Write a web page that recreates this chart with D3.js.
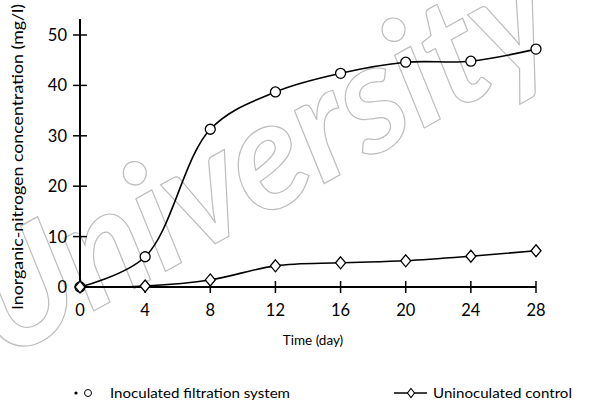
<!DOCTYPE html>
<html>
<head>
<meta charset="utf-8">
<script src="https://cdn.jsdelivr.net/npm/d3@7"></script>
<style>
  body { margin: 0; background: #fff; }
  text { font-family: Lato, "Open Sans", sans-serif; }
</style>
</head>
<body>
<script>
// data
var days = [0, 4, 8, 12, 16, 20, 24, 28];
var inoculated = [0, 6, 31.3, 38.7, 42.4, 44.6, 44.8, 47.2];
var uninoculated = [0, 0.2, 1.4, 4.2, 4.8, 5.2, 6.1, 7.2];
var yTicks = [0, 10, 20, 30, 40, 50];

var width = 590, height = 405;

var svg = d3.select("body").append("svg")
  .attr("width", width)
  .attr("height", height);

// watermark
svg.append("text")
  .attr("transform", "translate(2,362) rotate(-29)")
  .attr("font-size", 152)
  .attr("font-weight", "bold")
  .attr("font-style", "italic")
  .attr("textLength", 645)
  .attr("lengthAdjust", "spacingAndGlyphs")
  .attr("fill", "none")
  .attr("stroke", "#bdbdbd")
  .attr("stroke-width", 1.2)
  .text("University");

// scales
var x = d3.scaleLinear().domain([0, 28]).range([80, 536]);
var y = d3.scaleLinear().domain([0, 50]).range([287, 35]);

// axes lines
svg.append("line")
  .attr("x1", x(0)).attr("x2", x(28))
  .attr("y1", y(0)).attr("y2", y(0))
  .attr("stroke", "#000").attr("stroke-width", 2.2);
svg.append("line")
  .attr("x1", x(0)).attr("x2", x(0))
  .attr("y1", y(0) + 5).attr("y2", 19)
  .attr("stroke", "#000").attr("stroke-width", 2);

// y ticks
svg.selectAll(".ytick").data(yTicks.filter(function (d) { return d > 0; }))
  .enter().append("line")
  .attr("x1", x(0) - 7).attr("x2", x(0) + 7)
  .attr("y1", function (d) { return y(d); })
  .attr("y2", function (d) { return y(d); })
  .attr("stroke", "#000").attr("stroke-width", 1.5);
svg.selectAll(".ylab").data(yTicks)
  .enter().append("text")
  .attr("x", 67)
  .attr("y", function (d) { return y(d) + 6; })
  .attr("text-anchor", "end")
  .attr("font-size", 16.5)
  .text(function (d) { return d; });

// x ticks
svg.selectAll(".xtick").data(days.filter(function (d) { return d > 0; }))
  .enter().append("line")
  .attr("x1", function (d) { return x(d); })
  .attr("x2", function (d) { return x(d); })
  .attr("y1", y(0) - 6).attr("y2", y(0) + 6)
  .attr("stroke", "#000").attr("stroke-width", 1.5);
svg.selectAll(".xlab").data(days)
  .enter().append("text")
  .attr("x", function (d) { return x(d); })
  .attr("y", 316)
  .attr("text-anchor", "middle")
  .attr("font-size", 16.5)
  .text(function (d) { return d; });

// axis titles
svg.append("text")
  .attr("x", 313).attr("y", 345)
  .attr("text-anchor", "middle")
  .attr("font-size", 13.5)
  .text("Time (day)");
svg.append("text")
  .attr("transform", "translate(23,157) rotate(-90)")
  .attr("text-anchor", "middle")
  .attr("font-size", 16)
  .attr("textLength", 306)
  .attr("lengthAdjust", "spacingAndGlyphs")
  .text("Inorganic-nitrogen concentration (mg/l)");

// lines
var line = d3.line()
  .x(function (d, i) { return x(days[i]); })
  .y(function (d) { return y(d); })
  .curve(d3.curveCatmullRom.alpha(0.5));

svg.append("path").datum(inoculated)
  .attr("d", line)
  .attr("fill", "none").attr("stroke", "#000").attr("stroke-width", 1.6);
svg.append("path").datum(uninoculated)
  .attr("d", line)
  .attr("fill", "none").attr("stroke", "#000").attr("stroke-width", 1.6);

// markers
svg.selectAll(".circ").data(inoculated)
  .enter().append("circle")
  .attr("cx", function (d, i) { return x(days[i]); })
  .attr("cy", function (d) { return y(d); })
  .attr("r", 5)
  .attr("fill", "#fff").attr("stroke", "#000").attr("stroke-width", 1.3);

var diamond = "M0,-6L5,0L0,6L-5,0Z";
svg.selectAll(".diam").data(uninoculated)
  .enter().append("path")
  .attr("transform", function (d, i) { return "translate(" + x(days[i]) + "," + y(d) + ")"; })
  .attr("d", diamond)
  .attr("fill", "#fff").attr("stroke", "#000").attr("stroke-width", 1.3);

// legend
var legend = svg.append("g").attr("class", "legend");
legend.append("circle").attr("cx", 76).attr("cy", 393).attr("r", 1.6).attr("fill", "#000");
legend.append("circle").attr("cx", 88).attr("cy", 393).attr("r", 3.5)
  .attr("fill", "#fff").attr("stroke", "#000").attr("stroke-width", 1);
legend.append("text").attr("x", 110).attr("y", 398).attr("font-size", 14)
  .attr("textLength", 180).attr("lengthAdjust", "spacingAndGlyphs")
  .text("Inoculated filtration system");

legend.append("line").attr("x1", 394).attr("x2", 427).attr("y1", 393).attr("y2", 393)
  .attr("stroke", "#000").attr("stroke-width", 1.6);
legend.append("path").attr("transform", "translate(411,393)")
  .attr("d", "M0,-4.5L3.5,0L0,4.5L-3.5,0Z")
  .attr("fill", "#fff").attr("stroke", "#000").attr("stroke-width", 1.1);
legend.append("text").attr("x", 433).attr("y", 398).attr("font-size", 14)
  .attr("textLength", 139).attr("lengthAdjust", "spacingAndGlyphs")
  .text("Uninoculated control");
</script>
</body>
</html>
